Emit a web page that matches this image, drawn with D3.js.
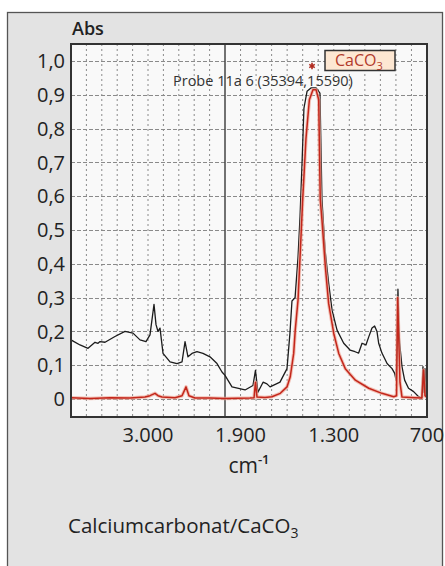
<!DOCTYPE html>
<html>
<head>
<meta charset="utf-8">
<script src="https://cdn.jsdelivr.net/npm/d3@7"></script>
<style>
  body { margin: 0; background: #fff; }
  svg { display: block; font-family: "Open Sans", sans-serif; }
</style>
</head>
<body>
<div id="chart"></div>
<script>
var width = 445;
var height = 566;

// sample spectrum "Probe 11a 6" (black)
var sampleWn = [4000, 3883, 3779, 3688, 3649, 3623, 3558, 3429, 3299, 3195, 3104, 3026, 2974, 2922, 2896, 2870, 2844, 2805, 2714, 2623, 2558, 2519, 2481, 2429, 2364, 2286, 2195, 2104, 2039,
  2000, 1955, 1871, 1820, 1804, 1788, 1755, 1730, 1710, 1646, 1601, 1582, 1569, 1549, 1530, 1517, 1504, 1492, 1472, 1447, 1414, 1389, 1376, 1356, 1333, 1311, 1279, 1236, 1195, 1163, 1140,
  1118, 1093, 1075, 1054, 1037, 1022, 1011, 990, 957, 925, 908, 899, 893, 887, 880, 876, 861, 844, 819, 786, 754, 733, 726, 720, 713, 707, 700];
var sampleAbs = [0.175, 0.16, 0.15, 0.168, 0.165, 0.17, 0.168, 0.185, 0.2, 0.195, 0.175, 0.17, 0.19, 0.28, 0.22, 0.2, 0.21, 0.135, 0.11, 0.105, 0.11, 0.17, 0.125, 0.135, 0.14, 0.135, 0.125, 0.105, 0.08,
  0.07, 0.036, 0.027, 0.04, 0.085, 0.02, 0.05, 0.045, 0.036, 0.05, 0.09, 0.195, 0.29, 0.3, 0.42, 0.54, 0.7, 0.86, 0.91, 0.92, 0.92, 0.905, 0.59, 0.44, 0.343, 0.263, 0.204, 0.165, 0.145, 0.14, 0.136,
  0.165, 0.16, 0.184, 0.21, 0.216, 0.2, 0.165, 0.136, 0.105, 0.09, 0.076, 0.056, 0.15, 0.325, 0.2, 0.165, 0.096, 0.056, 0.032, 0.022, 0.007, 0.003, 0.096, 0.02, 0.09, 0.01, 0.005];

// reference spectrum CaCO3 (red)
var refWn = [4000, 3753, 3494, 3234, 3039, 2974, 2909, 2870, 2818, 2649, 2558, 2506, 2468, 2390, 2195, 2000, 1839, 1813, 1804, 1794, 1743, 1698, 1644, 1601, 1580, 1558, 1548, 1530, 1515, 1500,
  1479, 1457, 1434, 1414, 1397, 1387, 1376, 1354, 1333, 1300, 1268, 1226, 1161, 1075, 990, 914, 896, 889, 880, 874, 861, 777, 733, 722, 713, 700];
var refAbs = [0.004, 0.002, 0.004, 0.003, 0.006, 0.01, 0.017, 0.01, 0.006, 0.004, 0.01, 0.036, 0.01, 0.003, 0.003, 0.002, 0.003, 0.004, 0.05, 0.006, 0.005, 0.007, 0.017, 0.036, 0.066, 0.135, 0.204, 0.293, 0.44, 0.59,
  0.77, 0.885, 0.915, 0.915, 0.885, 0.59, 0.53, 0.39, 0.283, 0.194, 0.135, 0.09, 0.056, 0.032, 0.017, 0.007, 0.01, 0.3, 0.15, 0.05, 0.006, 0.004, 0.003, 0.086, 0.01, 0.005];

var xTicks = [3000, 1900, 1300, 700];
var xTickLabels = ["3.000", "1.900", "1.300", "700"];
var yTicks = [1.0, 0.9, 0.8, 0.7, 0.6, 0.5, 0.4, 0.3, 0.2, 0.1, 0];
var yTickLabels = ["1,0", "0,9", "0,8", "0,7", "0,6", "0,5", "0,4", "0,3", "0,2", "0,1", "0"];
var peakMarker = [{ wn: 1440, abs: 0.985 }];

var plot = { left: 71, top: 44, right: 427, bottom: 417 };

var svg = d3.select("#chart")
  .append("svg")
  .attr("width", width)
  .attr("height", height);

// grey outer panel (runs past the bottom edge)
svg.append("rect")
  .attr("x", 7.5).attr("y", 12.5)
  .attr("width", 435).attr("height", 620)
  .attr("fill", "#e3e3e3")
  .attr("stroke", "#555")
  .attr("stroke-width", 1.3);

// spectrometer axis: 4000-2000 compressed, 2000-700 expanded
var xScale = d3.scaleLinear()
  .domain([4000, 2000, 700])
  .range([plot.left, 225, plot.right]);

var yScale = d3.scaleLinear()
  .domain([-0.053, 1.05])
  .range([plot.bottom, plot.top]);

svg.append("rect")
  .attr("x", plot.left).attr("y", plot.top)
  .attr("width", plot.right - plot.left)
  .attr("height", plot.bottom - plot.top)
  .attr("fill", "#f9f9f9");

svg.append("clipPath").attr("id", "clip")
  .append("rect")
  .attr("x", plot.left).attr("y", plot.top)
  .attr("width", plot.right - plot.left)
  .attr("height", plot.bottom - plot.top);

var grid = svg.append("g").attr("class", "grid");

// vertical dotted grid, every 200 below 2000 cm-1 part, every 100 above
var gridWn = d3.range(3800, 2000, -200).concat(d3.range(1900, 700, -100));
grid.selectAll("line.v")
  .data(gridWn)
  .enter()
  .append("line")
  .attr("class", "v")
  .attr("x1", function(d) { return xScale(d); })
  .attr("x2", function(d) { return xScale(d); })
  .attr("y1", plot.top)
  .attr("y2", plot.bottom)
  .attr("stroke", "#8a8a8a")
  .attr("stroke-width", 1)
  .attr("stroke-dasharray", "2,3");

grid.selectAll("line.h")
  .data(yTicks)
  .enter()
  .append("line")
  .attr("class", "h")
  .attr("x1", plot.left)
  .attr("x2", plot.right)
  .attr("y1", function(d) { return Math.round(yScale(d)) + 0.5; })
  .attr("y2", function(d) { return Math.round(yScale(d)) + 0.5; })
  .attr("stroke", "#8a8a8a")
  .attr("stroke-width", 1)
  .attr("stroke-dasharray", "4,2");

// scale break line at 2000
grid.append("line")
  .attr("x1", xScale(2000)).attr("x2", xScale(2000))
  .attr("y1", plot.top).attr("y2", plot.bottom)
  .attr("stroke", "#444")
  .attr("stroke-width", 1.5);

var line = d3.line()
  .x(function(d) { return xScale(d[0]); })
  .y(function(d) { return yScale(d[1]); });

var lines = svg.append("g").attr("clip-path", "url(#clip)");

lines.append("path")
  .datum(d3.zip(sampleWn, sampleAbs))
  .attr("d", line)
  .attr("fill", "none")
  .attr("stroke", "#1c1c1c")
  .attr("stroke-width", 1.3)
  .attr("stroke-linejoin", "round");

var refData = d3.zip(refWn, refAbs);
lines.append("path")
  .datum(refData)
  .attr("d", line)
  .attr("fill", "none")
  .attr("stroke", "#f0a898")
  .attr("stroke-opacity", 0.7)
  .attr("stroke-width", 3.5)
  .attr("stroke-linejoin", "round");
lines.append("path")
  .datum(refData)
  .attr("d", line)
  .attr("fill", "none")
  .attr("stroke", "#c3261b")
  .attr("stroke-width", 1.5)
  .attr("stroke-linejoin", "round");

// plot frame
svg.append("rect")
  .attr("x", plot.left).attr("y", plot.top)
  .attr("width", plot.right - plot.left)
  .attr("height", plot.bottom - plot.top)
  .attr("fill", "none")
  .attr("stroke", "#333")
  .attr("stroke-width", 2);

// y tick labels
svg.append("g")
  .selectAll("text")
  .data(yTicks)
  .enter()
  .append("text")
  .attr("x", 65)
  .attr("y", function(d) { return yScale(d); })
  .attr("dy", "0.36em")
  .attr("text-anchor", "end")
  .attr("font-size", 20)
  .attr("fill", "#222")
  .text(function(d, i) { return yTickLabels[i]; });

// x tick labels
svg.append("g")
  .selectAll("text")
  .data(xTicks)
  .enter()
  .append("text")
  .attr("x", function(d) { return xScale(d); })
  .attr("y", 442)
  .attr("text-anchor", "middle")
  .attr("font-size", 20)
  .attr("fill", "#222")
  .text(function(d, i) { return xTickLabels[i]; });

svg.append("text")
  .attr("x", 72).attr("y", 35)
  .attr("font-size", 18)
  .attr("font-weight", 600)
  .attr("fill", "#222")
  .text("Abs");

var unit = svg.append("text")
  .attr("x", (plot.left + plot.right) / 2)
  .attr("y", 473)
  .attr("text-anchor", "middle")
  .attr("font-size", 21)
  .attr("fill", "#222");
unit.append("tspan").text("cm");
unit.append("tspan").attr("dy", -9).attr("font-size", 13).attr("font-weight", 600).text("-1");

var caption = svg.append("text")
  .attr("x", 68).attr("y", 533)
  .attr("font-size", 20.5)
  .attr("fill", "#222");
caption.append("tspan").text("Calciumcarbonat/CaCO");
caption.append("tspan").attr("dy", 5).attr("font-size", 14).text("3");

// sample label
svg.append("text")
  .attr("x", 173).attr("y", 86)
  .attr("font-size", 14.5)
  .attr("fill", "#333")
  .text("Probe 11a 6 (35394,15590)");

// reference legend box
svg.append("rect")
  .attr("x", 325).attr("y", 50.5)
  .attr("width", 70).attr("height", 20)
  .attr("fill", "#fde7d2")
  .attr("stroke", "#333")
  .attr("stroke-width", 1.5);
var leg = svg.append("text")
  .attr("x", 335).attr("y", 66)
  .attr("font-size", 16)
  .attr("fill", "#b23a2c");
leg.append("tspan").text("CaCO");
leg.append("tspan").attr("dy", 4).attr("font-size", 11).text("3");

// peak marker
svg.append("g")
  .selectAll("path")
  .data(peakMarker)
  .enter()
  .append("path")
  .attr("transform", function(d) { return "translate(" + xScale(d.wn) + "," + yScale(d.abs) + ")"; })
  .attr("d", d3.symbol().type(d3.symbolAsterisk).size(28))
  .attr("stroke", "#b02a1e")
  .attr("stroke-width", 1.6)
  .attr("fill", "none");
</script>
</body>
</html>
